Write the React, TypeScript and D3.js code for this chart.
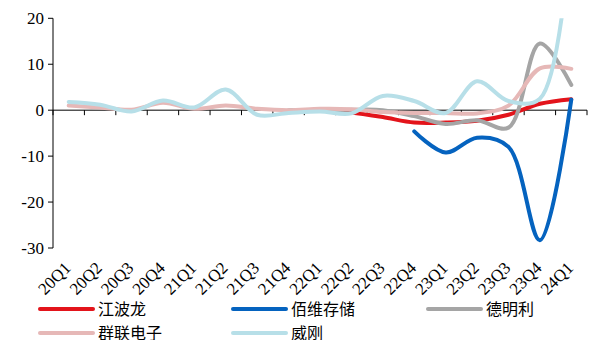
import React, { useEffect, useRef } from "react";
import * as d3 from "d3";

const categories = [
  "20Q1", "20Q2", "20Q3", "20Q4", "21Q1", "21Q2", "21Q3", "21Q4",
  "22Q1", "22Q2", "22Q3", "22Q4", "23Q1", "23Q2", "23Q3", "23Q4", "24Q1",
];

// null = no data for that quarter
const jiangbolong = [null, null, null, null, null, null, null, null, 0.0, -0.5, -1.5, -2.7, -2.7, -2.3, -1.0, 1.4, 2.4];
const baiwei = [null, null, null, null, null, null, null, null, null, null, null, -4.6, -9.2, -6.0, -8.0, -28.3, 2.3];
const demingli = [null, null, null, null, null, null, null, 0.0, 0.0, 0.1, 0.0, -1.3, -3.0, -2.2, -3.8, 14.5, 5.5];
const qunlian = [1.0, 0.6, 0.1, 1.6, 0.3, 1.0, 0.3, 0.0, 0.3, 0.2, -0.4, -0.6, -0.6, -0.7, 1.0, 9.1, 9.0];
const weigang = [1.8, 1.2, -0.3, 2.1, 0.6, 4.5, -1.0, -0.6, -0.3, -0.7, 3.1, 2.0, -0.6, 6.3, 2.0, 2.5, 40];

const yTicks = [20, 10, 0, -10, -20, -30];

const seriesNames = ["江波龙", "佰维存储", "德明利", "群联电子", "威刚"];
const seriesValues = [jiangbolong, baiwei, demingli, qunlian, weigang];
const seriesColors = ["#E3141B", "#0563BF", "#A5A5A5", "#E6B8B7", "#B7DFE8"];

const W = 593;
const H = 340;
const left = 53;
const right = 587;
const top = 18.3;
const bottom = 248;

export default function App() {
  const ref = useRef<SVGSVGElement>(null);

  useEffect(() => {
    const svg = d3.select(ref.current);
    svg.selectAll("*").remove();

    const x = d3.scaleBand<string>().domain(categories).range([left, right]);
    const y = d3.scaleLinear().domain([-30, 20]).range([bottom, top]);
    const cx = (c: string) => (x(c) as number) + x.bandwidth() / 2;

    svg.append("defs")
      .append("clipPath").attr("id", "plot-clip")
      .append("rect")
      .attr("x", left).attr("y", top)
      .attr("width", right - left + 10).attr("height", bottom - top);

    // value axis
    const yAxis = svg.append("g");
    yAxis.append("line")
      .attr("x1", left).attr("x2", left)
      .attr("y1", y(20)).attr("y2", y(-30))
      .attr("stroke", "#000").attr("stroke-width", 1);
    yAxis.selectAll("line.tick").data(yTicks).join("line")
      .attr("class", "tick")
      .attr("x1", left - 5).attr("x2", left)
      .attr("y1", (d) => y(d)).attr("y2", (d) => y(d))
      .attr("stroke", "#000");
    yAxis.selectAll("text").data(yTicks).join("text")
      .attr("x", left - 9)
      .attr("y", (d) => y(d))
      .attr("dy", "0.35em")
      .attr("text-anchor", "end")
      .attr("font-family", "'Liberation Serif', 'Times New Roman', serif")
      .attr("font-size", 17)
      .text((d) => String(d));

    // category axis on the zero line
    const xAxis = svg.append("g");
    xAxis.append("line")
      .attr("x1", left).attr("x2", right)
      .attr("y1", y(0)).attr("y2", y(0))
      .attr("stroke", "#000");
    const edges = d3.range(categories.length + 1).map((i) => left + i * x.step());
    xAxis.selectAll("line.tick").data(edges).join("line")
      .attr("class", "tick")
      .attr("x1", (d) => d).attr("x2", (d) => d)
      .attr("y1", y(0)).attr("y2", y(0) + 5)
      .attr("stroke", "#000");
    xAxis.selectAll("text").data(categories).join("text")
      .attr("transform", (d) => `translate(${cx(d) + 3},${y(-30) + 21}) rotate(-45)`)
      .attr("text-anchor", "end")
      .attr("font-family", "'Liberation Serif', 'Times New Roman', serif")
      .attr("font-size", 17)
      .text((d) => d);

    // smoothed lines
    const line = d3.line<[string, number | null]>()
      .defined((d) => d[1] !== null)
      .x((d) => cx(d[0]))
      .y((d) => y(d[1] as number))
      .curve(d3.curveCatmullRom.alpha(0.5));

    const lines = svg.append("g").attr("clip-path", "url(#plot-clip)");
    seriesValues.forEach((vals, i) => {
      const pts = categories.map((c, j) => [c, vals[j]] as [string, number | null])
        .filter((p) => p[1] !== null);
      lines.append("path")
        .attr("d", line(pts))
        .attr("fill", "none")
        .attr("stroke", seriesColors[i])
        .attr("stroke-width", 4)
        .attr("stroke-linejoin", "round")
        .attr("stroke-linecap", "round");
    });

    // legend
    const legendPos = [
      [40, 309], [233, 309], [428, 309], [40, 333], [233, 333],
    ];
    const legend = svg.append("g");
    seriesNames.forEach((name, i) => {
      const [lx, ly] = legendPos[i];
      legend.append("line")
        .attr("x1", lx).attr("x2", lx + 53)
        .attr("y1", ly).attr("y2", ly)
        .attr("stroke", seriesColors[i])
        .attr("stroke-width", 4)
        .attr("stroke-linecap", "round");
      legend.append("text")
        .attr("x", lx + 58).attr("y", ly)
        .attr("dy", "0.36em")
        .attr("font-family", "'Noto Sans CJK SC', sans-serif")
        .attr("font-size", 16)
        .text(name);
    });
  }, []);

  return (
    <svg
      ref={ref}
      width={W}
      height={H}
      style={{ position: "absolute", left: 0, top: 0, background: "#fff" }}
    />
  );
}
